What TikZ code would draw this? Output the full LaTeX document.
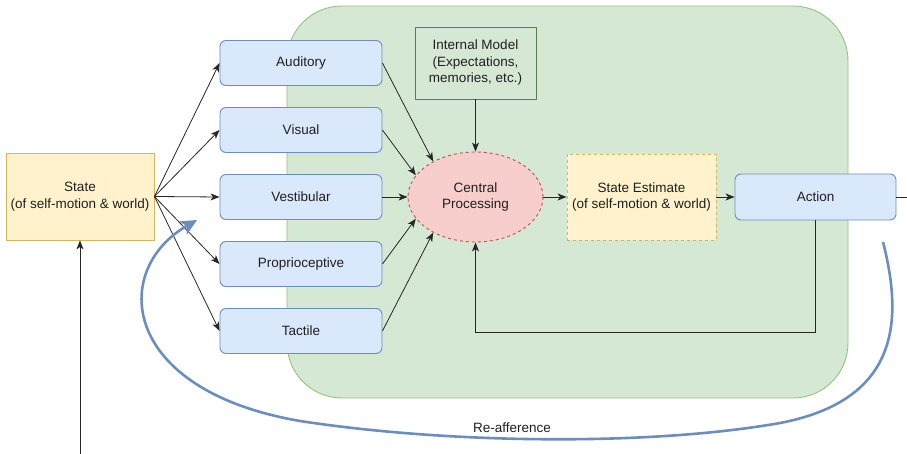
\documentclass[tikz,border=0pt]{standalone}
\usepackage{fontspec}
\setmainfont{Liberation Sans}
\usetikzlibrary{shapes.geometric, arrows.meta, positioning, calc}
\definecolor{boxblue}{HTML}{DAE8FC}
\definecolor{lineblue}{HTML}{6C8EBF}
\definecolor{boxgreen}{HTML}{D5E8D4}
\definecolor{linegreen}{HTML}{97C27F}
\definecolor{modelgreen}{HTML}{5E7D4E}
\definecolor{boxyellow}{HTML}{FFF2CC}
\definecolor{lineyellow}{HTML}{D6B656}
\definecolor{boxred}{HTML}{F8CECC}
\definecolor{linered}{HTML}{B85450}

\tikzset{
    every node/.style={font=\fontsize{13.5}{16.5}\selectfont, text=black!88, align=center, inner sep=0pt},
    sensebox/.style={draw=lineblue, fill=boxblue, rounded corners=6pt, line width=0.9pt, minimum width=162pt, minimum height=45pt},
    statebox/.style={draw=lineyellow, fill=boxyellow, line width=0.9pt},
    arr/.style={-{Stealth[length=9pt, width=7pt, inset=2.5pt]}, line width=0.8pt, black!85},
    afference/.style={-{Stealth[length=16pt, width=15pt, inset=4pt]}, line width=2.6pt, lineblue}
}

\begin{document}
\begin{tikzpicture}[x=1pt, y=-1pt]
    \useasboundingbox (0,0) rectangle (907,454);
    % brain region
    \draw[fill=boxgreen, draw=linegreen, line width=0.9pt, rounded corners=55pt] (287,6) rectangle (848,398);

    \node[statebox, minimum width=148pt, minimum height=87pt] (state) at (80,196.5) {State\\(of self-motion \& world)};
    \node[ellipse, draw=linered, dashed, fill=boxred, line width=0.9pt, minimum width=135pt, minimum height=90pt] (cp) at (475.5,197) {Central\\Processing};
    \node[draw=modelgreen, fill=boxgreen, line width=0.9pt, minimum width=121pt, minimum height=72pt] (model) at (475.5,63) {Internal Model\\(Expectations,\\memories, etc.)};
    \node[statebox, dashed, minimum width=149pt, minimum height=86pt] (est) at (641.5,197) {State Estimate\\(of self-motion \& world)};
    \node[sensebox, minimum width=161pt, minimum height=46pt] (act) at (815.5,197) {Action};

    % senses
    \foreach \name/\txt/\ypos in {aud/Auditory/63, vis/Visual/130, ves/Vestibular/197, pro/Proprioceptive/264, tac/Tactile/331}
        \node[sensebox] (\name) at (301,\ypos) {\txt};
    \foreach \name/\ang in {aud/140, vis/160, ves/180, pro/200, tac/220} {
        \draw[arr] (state.east) -- (\name.west);
        \draw[arr] (\name.east) -- (cp.\ang);
    }

    \coordinate (out) at (907,197);
    \coordinate (world) at (80,454);
    \coordinate (raStart) at (883,242);
    \coordinate (raEnd) at (197,220);

    \draw[arr] (model) -- (cp);
    \draw[arr] (cp) -- (est);
    \draw[arr] (est) -- (act);
    \draw[line width=0.8pt, black!85] (act) -- (out);
    \draw[arr] (act.south) -- ++(0,112) -| (cp.south);
    \draw[arr] (world) -- (state);

    % re-afference loop
    \draw[afference] (raStart) .. controls (903,320) and (900,400) .. (780,423)
        .. controls (650,446) and (450,444) .. (300,421)
        .. controls (120,390) and (110,270) .. (raEnd);
    \node (reaff) at (512,428) {Re-afference};
\end{tikzpicture}
\end{document}
